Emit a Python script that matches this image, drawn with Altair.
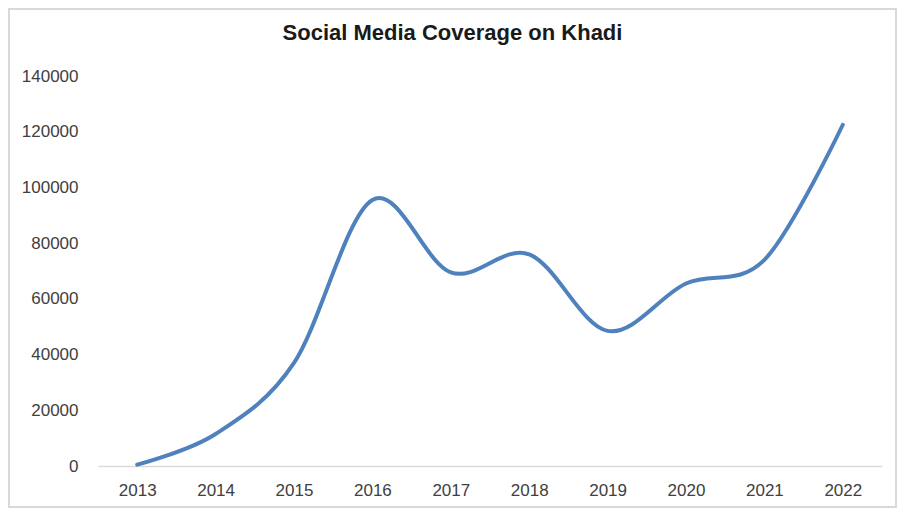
import altair as alt
import pandas as pd

years = ["2013", "2014", "2015", "2016", "2017", "2018", "2019", "2020", "2021", "2022"]
coverage = [500, 11500, 37000, 95500, 69500, 76000, 48500, 65500, 74000, 122500]

df = pd.DataFrame({"Year": years, "Coverage": coverage})

W, H = 784, 390
PL, PT, PR, PB = 90, 68, 15, 42

line = alt.Chart(df).mark_line(
    interpolate="cardinal", color="#4f81bd", strokeWidth=4, strokeCap="round"
).encode(
    x=alt.X("Year:N", sort=years, title=None,
            scale=alt.Scale(paddingInner=0, paddingOuter=0),
            axis=alt.Axis(labelAngle=0, ticks=False, domainColor="#d9d9d9", domainWidth=1.5,
                          labelPadding=16, labelFontSize=17, labelColor="#404040",
                          labelFont="Liberation Sans")),
    y=alt.Y("Coverage:Q", title=None,
            scale=alt.Scale(domain=[0, 140000], nice=False),
            axis=alt.Axis(values=list(range(0, 140001, 20000)), format="d", domain=False, ticks=False,
                          grid=False, labelPadding=20, labelFontSize=17, labelColor="#404040",
                          labelFont="Liberation Sans")),
)

border = alt.Chart(df).mark_rect(fill=None, stroke="#d9d9d9", strokeWidth=1.5, clip=False).encode(
    x=alt.value(-PL + 1), x2=alt.value(W + PR - 1),
    y=alt.value(-PT + 1), y2=alt.value(H + PB - 1),
)

chart = alt.layer(border, line).properties(
    width=W, height=H,
    title=alt.TitleParams("Social Media Coverage on Khadi", fontSize=22, fontWeight="bold",
                          font="Liberation Sans", color="#1a1a1a", anchor="middle",
                          frame="bounds", offset=-37),
    autosize=alt.AutoSizeParams(type="none"),
    padding={"left": PL, "top": PT, "right": PR, "bottom": PB},
).configure_view(stroke=None)

chart.save("out.html", embed_options={"renderer": "svg", "actions": False})
